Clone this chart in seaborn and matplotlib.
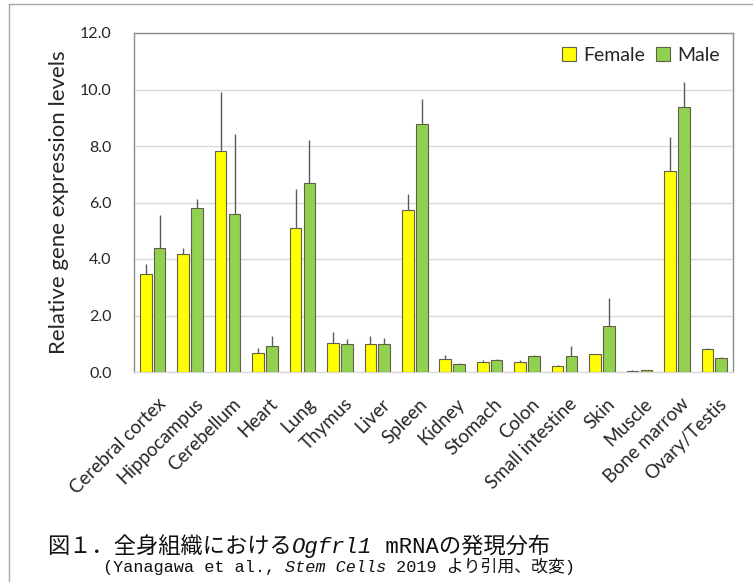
import matplotlib
matplotlib.use("Agg")
import matplotlib.pyplot as plt
import seaborn as sns
import pandas as pd
from matplotlib.lines import Line2D
from matplotlib.transforms import ScaledTranslation

# Relative Ogfrl1 expression per tissue (mean and upper SD)
tissues = ["Cerebral cortex", "Hippocampus", "Cerebellum", "Heart", "Lung",
           "Thymus", "Liver", "Spleen", "Kidney", "Stomach", "Colon",
           "Small intestine", "Skin", "Muscle", "Bone marrow", "Ovary/Testis"]
female = [3.46, 4.16, 7.81, 0.69, 5.11, 1.02, 1.00, 5.75, 0.47, 0.34, 0.34,
          0.23, 0.62, 0.05, 7.12, 0.82]
male = [4.40, 5.81, 5.61, 0.93, 6.70, 1.00, 1.00, 8.79, 0.30, 0.44, 0.56,
        0.58, 1.62, 0.07, 9.38, 0.51]
female_sd = [0.38, 0.24, 2.09, 0.17, 1.36, 0.39, 0.27, 0.54, 0.12, 0.07, 0.07,
             0.02, 0.02, 0.01, 1.20, 0.04]
male_sd = [1.17, 0.30, 2.80, 0.33, 1.50, 0.16, 0.22, 0.89, 0.02, 0.03, 0.04,
           0.33, 1.01, 0.01, 0.87, 0.01]
yticks = [0.0, 2.0, 4.0, 6.0, 8.0, 10.0, 12.0]

sexes = ["Female", "Male"]
colors = {"Female": "#FFFF00", "Male": "#92D050"}

df = pd.DataFrame({
    "Tissue": tissues * 2,
    "Sex": ["Female"] * len(tissues) + ["Male"] * len(tissues),
    "Level": female + male,
})

sns.set_theme(style="white")
plt.rcParams["font.family"] = ["Lato", "DejaVu Sans"]

W, H = 753, 582
fig = plt.figure(figsize=(W / 100, H / 100), dpi=100)
ax = fig.add_axes([134 / W, 1 - 372 / H, (733 - 134) / W, (372 - 33) / H])

sns.barplot(data=df, x="Tissue", y="Level", hue="Sex", hue_order=sexes,
            palette=colors, saturation=1, width=0.74, gap=0.16, errorbar=None,
            edgecolor="#5f5f4a", linewidth=0.8, ax=ax, zorder=3)

# upper-only error bars, no caps
for cont, sd in zip(ax.containers, [female_sd, male_sd]):
    for bar, s in zip(cont, sd):
        xc = bar.get_x() + bar.get_width() / 2
        h = bar.get_height()
        ax.vlines(xc, h, h + s, color="#5a5a5a", lw=1.0, zorder=2)

ax.set_ylim(0, 12)
ax.set_xlim(-0.5, len(tissues) - 0.5)
ax.set_yticks(yticks)
ax.set_yticklabels([f"{v:.1f}" for v in yticks], fontsize=11.5)
ax.yaxis.grid(True, color="#d9d9d9", lw=1.0, zorder=0)
ax.set_axisbelow(True)
ax.tick_params(axis="y", length=0, pad=16)
ax.tick_params(axis="x", length=0, pad=21)
ax.set_xlabel("")
ax.set_ylabel("Relative gene expression levels", fontsize=16, labelpad=8)

for lab in ax.get_xticklabels():
    lab.set_rotation(45)
    lab.set_rotation_mode("anchor")
    lab.set_ha("right")
    lab.set_va("center")
    lab.set_fontsize(13.5)
    lab.set_transform(lab.get_transform() + ScaledTranslation(10 / 100, 0, fig.dpi_scale_trans))

for side in ["left", "top", "right"]:
    ax.spines[side].set_color("#8c8c8c")
    ax.spines[side].set_linewidth(1.0)
ax.spines["bottom"].set_color("#d9d9d9")
ax.spines["bottom"].set_linewidth(1.0)

leg = ax.legend(loc="upper right", ncol=2, frameon=False, fontsize=14,
                handlelength=0.7, handleheight=0.7, handletextpad=0.35,
                columnspacing=0.6, borderaxespad=0.3,
                bbox_to_anchor=(1.0, 1.0))
for p in leg.get_patches():
    p.set_edgecolor("#5f5f4a")
    p.set_linewidth(0.8)

# outer frame lines
fig.add_artist(Line2D([9 / W, 9 / W], [0, 1 - 4 / H], color="#a6a6a6", lw=1.0))
fig.add_artist(Line2D([9 / W, 1], [1 - 4 / H, 1 - 4 / H], color="#a6a6a6", lw=1.0))

# caption, drawn as consecutive runs of text
renderer = fig.canvas.get_renderer()


def draw_runs(x_px, y_px, runs, size):
    x = x_px
    for txt, style in runs:
        t = fig.text(x / W, 1 - y_px / H, txt, fontsize=size, style=style,
                     family=["Liberation Mono", "Noto Sans CJK JP"],
                     va="baseline", ha="left", color="#111111")
        x += t.get_window_extent(renderer).width


draw_runs(47, 553, [("図１．全身組織における", "normal"), ("Ogfrl1", "italic"),
                    (" mRNAの発現分布", "normal")], 16)
draw_runs(103, 572, [("(Yanagawa et al., ", "normal"), ("Stem Cells", "italic"),
                     (" 2019 より引用、改変)", "normal")], 12.2)

fig.savefig("out.png", dpi=100)
